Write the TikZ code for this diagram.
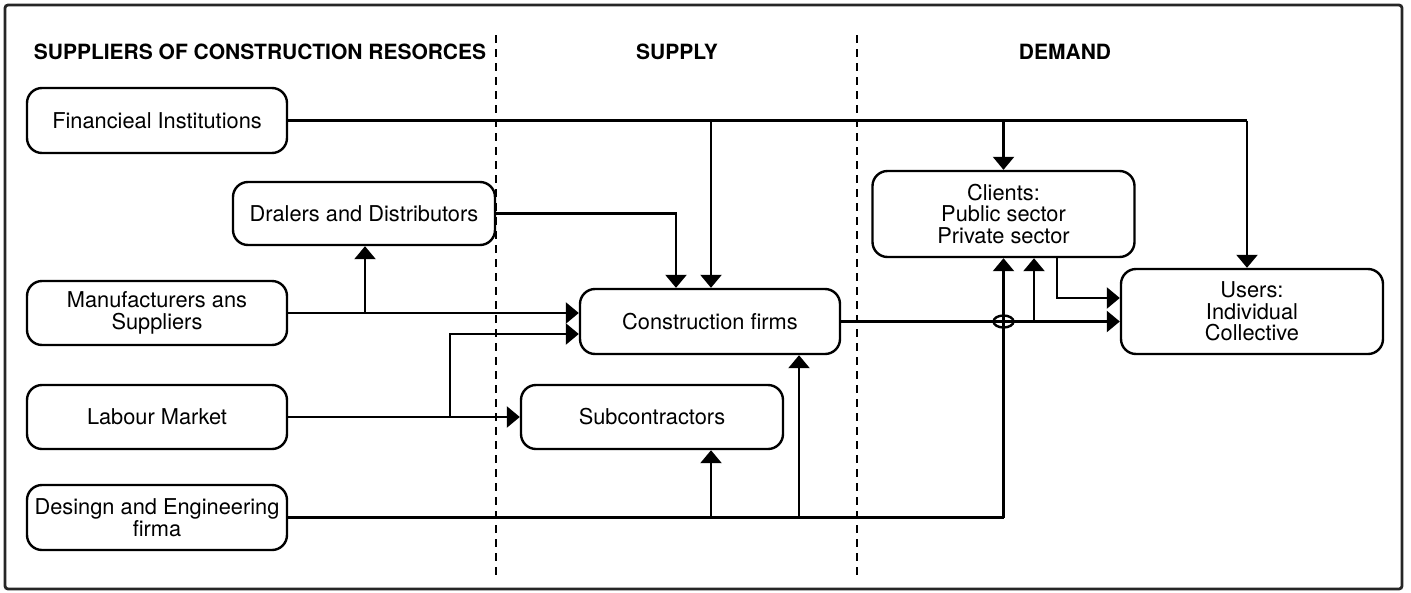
\documentclass[tikz,border=0pt]{standalone}
\usepackage{fontspec}
\setmainfont{TeX Gyre Heros}
\usetikzlibrary{arrows.meta}
\tikzset{
  box/.style={draw, line width=2.4pt, rounded corners=15pt, align=center, inner sep=0pt,
    font=\fontsize{21.8}{21.5}\selectfont},
  hdr/.style={font=\fontsize{21}{21}\selectfont\bfseries, inner sep=0pt},
  conn/.style={line width=2.4pt},
  arr/.style={conn, -{Triangle[width=21pt,length=13pt]}},
  divider/.style={line width=2.2pt, dash pattern=on 8pt off 6pt},
}
\begin{document}
\begin{tikzpicture}[x=1pt,y=-1pt]
\useasboundingbox (0,0) rectangle (1411,592);
\draw[line width=2.8pt, draw=black!85, rounded corners=3pt] (5,5) rectangle (1402,589);
% dividers
\draw[divider] (496,35) -- (496,578);
\draw[divider] (857,35) -- (857,578);
% headers
\node[hdr] (h1) at (260,52) {SUPPLIERS OF CONSTRUCTION RESORCES};
\node[hdr] (h2) at (677,52) {SUPPLY};
\node[hdr] (h3) at (1065,52) {DEMAND};
% boxes
\node[box, minimum width=260pt, minimum height=65pt] (fin) at (157,120.5) {Financieal Institutions};
\node[box, minimum width=262pt, minimum height=63pt] (dral) at (364,213.5) {Dralers and Distributors};
\node[box, minimum width=260pt, minimum height=64pt] (manu) at (157,313) {Manufacturers ans\\Suppliers};
\node[box, minimum width=260pt, minimum height=64pt] (lab) at (157,417) {Labour Market};
\node[box, minimum width=260pt, minimum height=65pt] (des) at (157,517.5) {Desingn and Engineering\\firma};
\node[box, minimum width=260pt, minimum height=65pt] (cons) at (710,321.5) {Construction firms};
\node[box, minimum width=262pt, minimum height=64pt] (sub) at (652,417) {Subcontractors};
\node[box, minimum width=262pt, minimum height=86pt] (cli) at (1003.5,214) {Clients:\\Public sector\\Private sector};
\node[box, minimum width=262pt, minimum height=85pt] (use) at (1252,311.5) {Users:\\Individual\\Collective};
% junction coordinates
\coordinate (jf1) at (711,120.5);
\coordinate (jf2) at (1003.5,120.5);
\coordinate (jf3) at (1247,120.5);
\coordinate (jd) at (676,213.5);
\coordinate (jm) at (365,313);
\coordinate (jl) at (450,417);
\coordinate (jl2) at (450,334);
\coordinate (je1) at (711,517.5);
\coordinate (je2) at (799,517.5);
\coordinate (je3) at (1003.5,517.5);
\coordinate (jc) at (1034,321.5);
\coordinate (jx) at (1003.5,321.5);
\coordinate (jk) at (1057,298);
% financial institutions
\draw[conn] (fin.east) -- (jf3);
\draw[arr] (jf3) -- (jf3 |- use.north);
\draw[arr] (jf1) -- (jf1 |- cons.north);
\draw[arr] (jf2) -- (cli.north);
% dealers
\draw[arr] (dral.east) -- (jd) -- (jd |- cons.north);
% manufacturers
\draw[arr] (manu.east) -- (cons.west |- manu.east);
\draw[arr] (jm) -- (jm |- dral.south);
% labour
\draw[arr] (lab.east) -- (sub.west);
\draw[arr] (jl) -- (jl2) -- (cons.west |- jl2);
% design
\draw[conn] (des.east) -- (je3);
\draw[arr] (je3) -- (cli.south);
\draw[arr] (je1) -- (je1 |- sub.south);
\draw[arr] (je2) -- (je2 |- cons.south);
% construction to users
\draw[arr] (cons.east) -- (use.west |- cons.east);
\draw[arr] (jc) -- (jc |- cli.south);
\draw[conn] (jx) ellipse [x radius=10, y radius=6];
% clients to users
\draw[arr] (jk |- cli.south) -- (jk) -- (use.west |- jk);
\end{tikzpicture}
\end{document}
